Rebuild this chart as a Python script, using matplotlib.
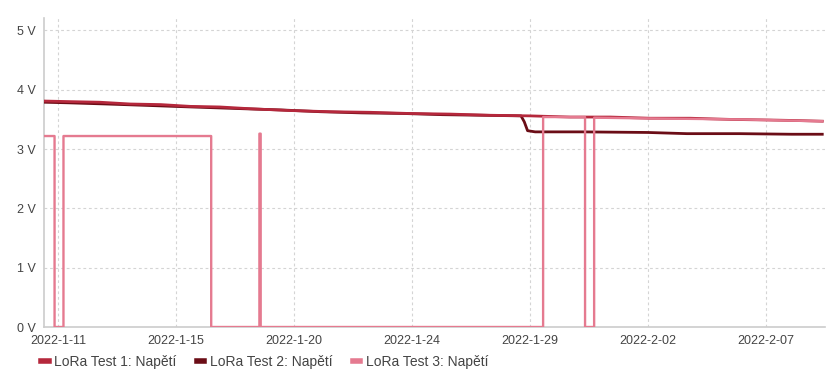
import matplotlib
matplotlib.use("Agg")
import matplotlib.pyplot as plt
import matplotlib.dates as mdates
from matplotlib.lines import Line2D
import pandas as pd

plt.rcParams['font.family'] = ['Liberation Sans', 'DejaVu Sans']

series_names = ["LoRa Test 1: Napětí", "LoRa Test 2: Napětí", "LoRa Test 3: Napětí"]
series_colors = ["#b5283c", "#6b0d16", "#e57a90"]

t1 = ["2022-01-10 11:00", "2022-01-11 11:00", "2022-01-12 14:00", "2022-01-13 18:00",
      "2022-01-14 22:00", "2022-01-16 01:00", "2022-01-17 04:00", "2022-01-18 08:00",
      "2022-01-19 20:00", "2022-01-21 09:00", "2022-01-22 22:00", "2022-01-24 10:00",
      "2022-01-25 23:00", "2022-01-27 12:00", "2022-01-29 00:00", "2022-01-30 13:00",
      "2022-02-01 02:00", "2022-02-02 14:00", "2022-02-04 03:00", "2022-02-05 16:00",
      "2022-02-07 04:00", "2022-02-08 07:00", "2022-02-09 04:00"]
v1 = [3.81, 3.80, 3.79, 3.76, 3.75, 3.72, 3.71, 3.68, 3.65, 3.63, 3.62, 3.60,
      3.59, 3.57, 3.56, 3.54, 3.54, 3.52, 3.52, 3.50, 3.49, 3.48, 3.47]

t2 = ["2022-01-10 11:00", "2022-01-11 09:00", "2022-01-12 20:00", "2022-01-14 04:00",
      "2022-01-15 10:00", "2022-01-16 18:00", "2022-01-18 02:00", "2022-01-19 12:00",
      "2022-01-21 00:00", "2022-01-22 14:00", "2022-01-24 04:00", "2022-01-25 16:00",
      "2022-01-27 04:00", "2022-01-28 16:00", "2022-01-28 19:00", "2022-01-28 22:00",
      "2022-01-29 05:00", "2022-01-31 00:00", "2022-02-02 12:00", "2022-02-04 00:00",
      "2022-02-06 00:00", "2022-02-08 00:00", "2022-02-09 04:00"]
v2 = [3.79, 3.78, 3.76, 3.74, 3.72, 3.70, 3.68, 3.66, 3.63, 3.61, 3.60, 3.58,
      3.57, 3.56, 3.46, 3.31, 3.29, 3.29, 3.28, 3.26, 3.26, 3.25, 3.25]

t3 = ["2022-01-10 11:00", "2022-01-10 20:40", "2022-01-10 20:41", "2022-01-11 04:50",
      "2022-01-11 04:51", "2022-01-16 20:10", "2022-01-16 20:11", "2022-01-18 16:20",
      "2022-01-18 16:21", "2022-01-18 17:30", "2022-01-18 17:31", "2022-01-29 12:15",
      "2022-01-29 12:16", "2022-01-31 02:40", "2022-01-31 02:41", "2022-01-31 11:00",
      "2022-01-31 11:01", "2022-02-02 00:00", "2022-02-04 00:00", "2022-02-06 00:00",
      "2022-02-08 00:00", "2022-02-09 04:00"]
v3 = [3.22, 3.22, 0.0, 0.0, 3.22, 3.22, 0.0, 0.0, 3.26, 3.26, 0.0, 0.0,
      3.54, 3.54, 0.0, 0.0, 3.53, 3.52, 3.51, 3.50, 3.48, 3.47]

x_tick_times = ["2022-01-11 00:00", "2022-01-15 12:00", "2022-01-20 00:00",
                "2022-01-24 12:00", "2022-01-29 00:00", "2022-02-02 12:00",
                "2022-02-07 00:00"]
x_tick_labels = ["2022-1-11", "2022-1-15", "2022-1-20", "2022-1-24",
                 "2022-1-29", "2022-2-02", "2022-2-07"]
y_ticks = [0, 1, 2, 3, 4, 5]
y_tick_labels = ["0 V", "1 V", "2 V", "3 V", "4 V", "5 V"]

fig = plt.figure(figsize=(8.29, 3.74), dpi=100)
ax = fig.add_axes([44/829, 1-327/374, (825-44)/829, (327-18)/374])

ax.plot(pd.to_datetime(t2), v2, color=series_colors[1], lw=2.0, zorder=3)
ax.plot(pd.to_datetime(t1), v1, color=series_colors[0], lw=2.0, zorder=4)
ax.plot(pd.to_datetime(t3), v3, color=series_colors[2], lw=1.7, zorder=5)

ax.set_xlim(pd.Timestamp("2022-01-10 11:00"), pd.Timestamp("2022-02-09 06:30"))
ax.set_ylim(0, 5.21)
ax.set_yticks(y_ticks)
ax.set_yticklabels(y_tick_labels)
ax.set_xticks(pd.to_datetime(x_tick_times))
ax.set_xticklabels(x_tick_labels)

ax.grid(True, ls=(0, (2.5, 2.5)), color="#d4d4d4", lw=0.8)
ax.set_axisbelow(True)
ax.tick_params(length=0, labelsize=9, colors="#444444")
ax.tick_params(axis='y', pad=6)
ax.tick_params(axis='x', pad=6)
for s in ["top", "right"]:
    ax.spines[s].set_visible(False)
for s in ["left", "bottom"]:
    ax.spines[s].set_color("#cccccc")
    ax.spines[s].set_linewidth(1.2)

handles = [Line2D([0], [0], color=c, lw=4) for c in series_colors]
fig.legend(handles, series_names, loc="center left", bbox_to_anchor=(41/829, 1-362/374),
           ncol=3, frameon=False, fontsize=10, handlelength=0.55, handletextpad=0.4,
           columnspacing=1.45, labelcolor="#444444", borderaxespad=0, borderpad=0)

fig.savefig("out.png", dpi=100)
